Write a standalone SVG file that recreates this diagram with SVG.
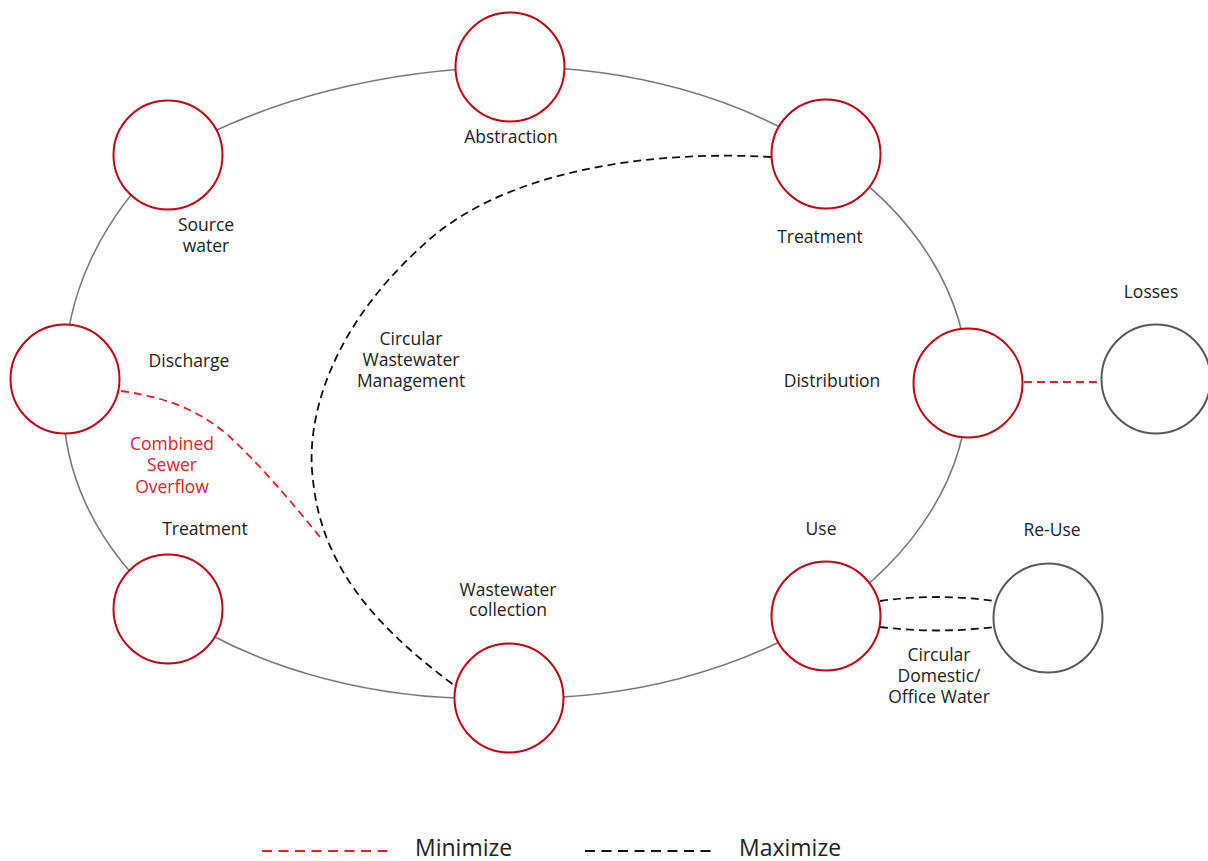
<svg xmlns="http://www.w3.org/2000/svg" width="1208" height="861" viewBox="0 0 1208 861">
<style>
.lbl{font-family:"Open Sans","Noto Sans",sans-serif;font-size:17.5px;fill:#222;text-anchor:middle}
.red{fill:#e8202a}
.node{fill:#fff;stroke:#c00012;stroke-width:2}
.gnode{fill:#fff;stroke:#5a5a5a;stroke-width:2}
.ring{fill:none;stroke:#7a7a7a;stroke-width:1.6}
.dk{fill:none;stroke:#111;stroke-width:1.8;stroke-dasharray:8 5}
.dr{fill:none;stroke:#ee1c24;stroke-width:1.8;stroke-dasharray:8 5}
.leg{font-family:"Open Sans","Noto Sans",sans-serif;font-size:23px;fill:#222}
</style>
<rect width="1208" height="861" fill="#fff"/>
<g id="connectors">
<path class="ring" d="M510 67 A450 316 0 0 1 826 154 A450 316 0 0 1 968 383 A450 316 0 0 1 826 616 A450 316 0 0 1 509 698 A450 316 0 0 1 168 609 A440 316 0 0 1 65 379 A500 360 0 0 1 168 155 A540 360 0 0 1 510 67 Z"/>
<path class="dk" d="M771 157 C650 150 500 170 420 248 C330 330 305 420 313 480 C322 570 380 630 455 686"/>
<path class="dr" d="M121 391 C165 397 200 410 230 437 C260 465 290 500 320 537"/>
<path class="dr" d="M1024 382 L1102 382"/>
<path class="dk" d="M880 601 Q937 593 994 601"/>
<path class="dk" d="M880 627 Q937 634 994 627"/>
</g>
<g id="abstraction"><circle class="node" cx="510" cy="67" r="54.5"/><text class="lbl" x="511" y="143">Abstraction</text></g>
<g id="treatment-top"><circle class="node" cx="826" cy="154" r="54.5"/><text class="lbl" x="820" y="243">Treatment</text></g>
<g id="source-water"><circle class="node" cx="168" cy="155" r="54.5"/><text class="lbl" x="206" y="231">Source</text><text class="lbl" x="206" y="252">water</text></g>
<g id="discharge"><circle class="node" cx="65" cy="379" r="54.5"/><text class="lbl" x="189" y="367">Discharge</text></g>
<g id="distribution"><circle class="node" cx="968" cy="383" r="54.5"/><text class="lbl" x="832" y="387">Distribution</text></g>
<g id="losses"><circle class="gnode" cx="1156" cy="379" r="54.5"/><text class="lbl" x="1151" y="298">Losses</text></g>
<g id="use"><circle class="node" cx="826" cy="616" r="54.5"/><text class="lbl" x="821" y="535">Use</text></g>
<g id="re-use"><circle class="gnode" cx="1048" cy="618" r="54.5"/><text class="lbl" x="1052" y="536">Re-Use</text></g>
<g id="wastewater-collection"><circle class="node" cx="509" cy="698" r="54.5"/><text class="lbl" x="508" y="596">Wastewater</text><text class="lbl" x="508" y="616">collection</text></g>
<g id="treatment-left"><circle class="node" cx="168" cy="609" r="54.5"/><text class="lbl" x="205" y="535">Treatment</text></g>
<g id="labels">
<text class="lbl" x="411" y="345">Circular</text><text class="lbl" x="411" y="366">Wastewater</text><text class="lbl" x="411" y="387">Management</text>
<text class="lbl red" x="172" y="450">Combined</text><text class="lbl red" x="172" y="471">Sewer</text><text class="lbl red" x="172" y="493">Overflow</text>
<text class="lbl" x="939" y="661">Circular</text><text class="lbl" x="939" y="682">Domestic/</text><text class="lbl" x="939" y="703">Office Water</text>
</g>
<g id="legend">
<path d="M262 851 L392 851" fill="none" stroke="#ee1c24" stroke-width="2" stroke-dasharray="10 6.5"/>
<text class="leg" x="415" y="856">Minimize</text>
<path d="M585 851 L717 851" fill="none" stroke="#111" stroke-width="2" stroke-dasharray="10 6.5"/>
<text class="leg" x="739" y="856">Maximize</text>
</g>
</svg>
